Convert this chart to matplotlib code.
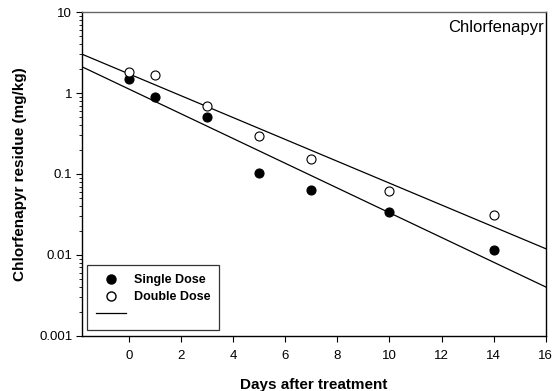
import numpy as np
import matplotlib.pyplot as plt
from matplotlib.lines import Line2D

plt.rcParams['font.family'] = ['Liberation Sans', 'DejaVu Sans']

# Data
days = [0, 1, 3, 5, 7, 10, 14]
single_dose = [1.49, 0.89, 0.505, 0.103, 0.0635, 0.034, 0.0115]
double_dose = [1.82, 1.67, 0.69, 0.295, 0.153, 0.062, 0.031]

x_ticks = [0, 2, 4, 6, 8, 10, 12, 14, 16]
y_ticks = [0.001, 0.01, 0.1, 1, 10]
y_tick_labels = ['0.001', '0.01', '0.1', '1', '10']

fig = plt.figure(figsize=(5.58, 3.91), dpi=100)
ax = fig.add_axes([0.147, 0.141, 0.831, 0.828])

# log-linear regression lines (first order decay)
x_fit = np.array([-1.8, 16])
for vals in (single_dose, double_dose):
    slope, icpt = np.polyfit(days, np.log10(vals), 1)
    ax.plot(x_fit, 10 ** (icpt + slope * x_fit), color='black', lw=0.9, zorder=2)

ax.plot(days, single_dose, 'o', ms=6.5, mfc='black', mec='black', mew=0.8, zorder=3)
ax.plot(days, double_dose, 'o', ms=6.5, mfc='white', mec='black', mew=0.8, zorder=3)

ax.set_yscale('log')
ax.set_xlim(-1.8, 16)
ax.set_ylim(0.001, 10)
ax.set_xticks(x_ticks)
ax.set_yticks(y_ticks)
ax.set_yticklabels(y_tick_labels)
ax.tick_params(axis='both', which='major', direction='out', length=4, width=0.8,
               labelsize=9.5, top=False, right=False)
ax.tick_params(axis='y', which='minor', direction='out', length=2.5, width=0.6)
ax.tick_params(axis='x', pad=6.5)
ax.tick_params(axis='y', pad=3)

for s in ax.spines.values():
    s.set_linewidth(1.0)
ax.spines['top'].set_color('#666666')

ax.set_xlabel('Days after treatment', fontsize=11, fontweight='bold', labelpad=11)
ax.set_ylabel('Chlorfenapyr residue (mg/kg)', fontsize=11, fontweight='bold', labelpad=9)

ax.text(0.995, 0.975, 'Chlorfenapyr', transform=ax.transAxes, ha='right', va='top', fontsize=12)

handles = [
    Line2D([], [], ls='none', marker='o', ms=6.5, mfc='black', mec='black'),
    Line2D([], [], ls='none', marker='o', ms=6.5, mfc='white', mec='black'),
    Line2D([], [], color='black', lw=0.9),
]
leg = ax.legend(handles, ['Single Dose', 'Double Dose', ''], loc='lower left',
                bbox_to_anchor=(0.002, 0.008), prop={'weight': 'bold', 'size': 9},
                frameon=True, fancybox=False, edgecolor='black', handlelength=2.4,
                borderpad=0.75, labelspacing=0.4, borderaxespad=0.3, handletextpad=0.6)
leg.get_frame().set_linewidth(0.9)

plt.savefig('out.png', dpi=100)
